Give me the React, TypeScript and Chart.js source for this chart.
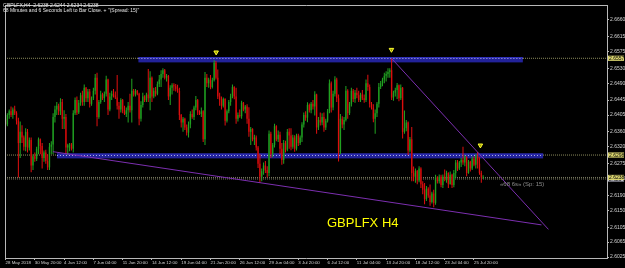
import React, { useEffect, useRef } from 'react';
import { Chart, registerables } from 'chart.js';
Chart.register(...registerables);

// Prices are stored in pips above 2.6000 (e.g. 395 -> 2.6395)
const BASE = 2.6;
const PIP = 0.0001;

// H4 candles: [open, high, low, close] in pips above 2.6000
const candlePips: number[][] = [
  [395,405,370,380],[380,410,375,405],[405,420,395,415],[415,428,400,405],[405,425,395,420],
  [420,430,405,410],[410,415,380,390],[390,398,238,330],[330,388,290,360],[360,378,330,345],
  [345,350,310,320],[320,370,308,360],[360,368,305,318],[318,345,310,338],[338,345,252,270],
  [270,300,258,295],[295,305,280,288],[288,320,282,315],[315,345,300,340],[340,342,300,322],
  [322,330,262,290],[290,310,280,305],[305,312,275,282],[282,300,258,265],[265,330,258,320],
  [320,335,300,326],[326,410,300,400],[400,430,385,420],[420,440,405,430],[430,435,405,415],
  [415,450,405,440],[440,448,368,395],[395,418,368,400],[400,408,300,318],[318,328,298,324],
  [324,330,308,326],[326,330,310,315],[315,418,305,410],[410,452,405,445],[445,455,405,412],
  [412,445,408,438],[438,465,430,458],[458,470,430,440],[440,487,430,478],[478,480,440,450],
  [450,475,440,468],[468,475,425,435],[435,455,430,450],[450,478,445,470],[470,515,460,505],
  [505,518,375,400],[400,445,395,440],[440,470,435,460],[460,465,445,450],[450,468,440,462],
  [462,510,455,500],[500,502,405,420],[420,465,415,455],[455,470,445,462],[462,475,452,458],
  [458,468,448,452],[452,512,420,430],[430,440,395,420],[420,450,412,445],[445,448,410,415],
  [415,430,405,408],[408,425,400,418],[418,440,385,430],[430,462,412,418],[418,502,385,470],
  [470,475,455,460],[460,475,455,470],[470,472,458,462],[462,465,378,395],[395,442,388,432],
  [432,465,425,455],[455,458,440,445],[445,465,440,460],[460,528,440,450],[450,522,418,505],
  [505,508,440,455],[455,478,450,470],[470,480,455,462],[462,495,458,488],[488,512,480,500],
  [500,525,480,515],[515,530,505,525],[525,528,500,505],[505,515,495,510],[510,512,445,455],
  [455,485,432,478],[478,490,460,485],[485,490,470,482],[482,488,468,475],[475,486,465,470],
  [470,478,392,405],[405,408,372,385],[385,400,360,395],[395,398,365,372],[372,380,350,358],
  [358,388,345,380],[380,415,370,408],[408,420,395,400],[400,430,392,425],[425,456,418,445],
  [445,448,405,412],[412,418,405,408],[408,425,400,415],[415,418,333,340],[340,520,325,505],
  [505,515,480,490],[490,505,478,500],[500,512,474,480],[480,505,476,498],[498,552,495,545],
  [545,550,500,505],[505,527,448,455],[455,465,430,445],[445,455,420,430],[430,452,425,448],
  [448,450,377,390],[390,420,385,415],[415,445,410,440],[440,462,430,455],[455,487,450,480],
  [480,482,447,455],[455,478,382,395],[395,412,388,405],[405,420,398,402],[402,443,395,438],
  [438,440,415,420],[420,432,410,428],[428,434,382,395],[395,426,347,360],[360,373,325,368],
  [368,370,335,340],[340,352,325,345],[345,350,310,318],[318,322,263,275],[275,300,224,240],
  [240,262,228,255],[255,278,245,270],[270,282,250,258],[258,268,238,250],[250,364,241,355],
  [355,360,290,300],[300,330,292,325],[325,382,318,375],[375,378,335,340],[340,364,333,352],
  [352,360,300,315],[315,330,272,285],[285,338,275,330],[330,336,305,312],[312,368,308,360],
  [360,370,315,350],[350,370,311,320],[320,352,315,345],[345,351,307,315],[315,355,310,350],
  [350,355,322,330],[330,350,325,345],[345,386,333,380],[380,412,372,405],[405,415,390,398],
  [398,439,386,432],[432,436,412,418],[418,440,410,435],[435,445,420,428],[428,469,404,460],
  [460,462,355,372],[372,400,365,392],[392,412,377,385],[385,410,378,400],[400,412,360,372],
  [372,395,365,390],[390,421,385,415],[415,500,410,490],[490,495,412,425],[425,470,418,462],
  [462,509,455,500],[500,505,440,450],[450,460,281,305],[305,408,300,395],[395,402,370,380],
  [380,400,365,392],[392,483,388,470],[470,474,395,410],[410,440,405,435],[435,478,428,470],
  [470,475,440,448],[448,472,438,465],[465,478,450,458],[458,470,440,445],[445,465,440,460],
  [460,472,445,450],[450,460,438,445],[445,500,440,490],[490,513,470,480],[480,487,425,435],
  [435,440,420,425],[425,434,386,395],[395,420,355,410],[410,440,400,435],[435,491,425,480],
  [480,496,475,490],[490,505,482,500],[500,518,490,510],[510,522,495,515],[515,530,505,520],
  [520,530,505,525],[525,558,445,452],[452,470,443,465],[465,478,455,472],[472,491,448,485],
  [485,487,442,450],[450,487,445,478],[478,480,342,360],[360,417,355,370],[370,392,362,385],
  [385,388,298,310],[310,346,305,340],[340,373,228,250],[250,267,228,240],[240,262,224,255],
  [255,258,220,230],[230,268,225,262],[262,265,210,220],[220,228,193,205],[205,223,166,180],
  [180,215,175,208],[208,212,184,190],[190,219,162,172],[172,200,168,195],[195,205,158,170],
  [170,245,165,238],[238,241,222,228],[228,246,222,240],[240,245,212,218],[218,246,210,240],
  [240,259,228,235],[235,256,224,250],[250,252,210,220],[220,254,219,245],[245,248,210,218],
  [218,258,212,250],[250,285,237,278],[278,285,255,262],[262,282,258,278],[278,290,266,285],
  [285,320,272,278],[278,298,268,292],[292,295,241,250],[250,285,248,280],[280,283,254,262],
  [262,294,258,288],[288,294,268,272],[272,300,262,295],[295,306,262,275],[275,292,245,250],
  [250,256,224,238],[238,244,234,238],
];

const timeLabels = [
  '28 May 2018', '30 May 20:00', '4 Jun 12:00', '7 Jun 04:00', '11 Jun 20:00', '14 Jun 12:00',
  '19 Jun 04:00', '21 Jun 20:00', '26 Jun 12:00', '29 Jun 04:00', '3 Jul 20:00', '6 Jul 12:00',
  '11 Jul 04:00', '13 Jul 20:00', '18 Jul 12:00', '23 Jul 04:00', '25 Jul 20:00',
];
const timeLabelBars = [0, 16, 32, 48, 64, 80, 96, 112, 128, 144, 160, 176, 192, 208, 224, 240, 256];

const priceTicks = [
  2.6660, 2.6615, 2.6575, 2.6530, 2.6490, 2.6445, 2.6405, 2.6360,
  2.6320, 2.6275, 2.6235, 2.6190, 2.6150, 2.6105, 2.6065, 2.6025,
];

const X_MIN = -0.3;
const X_MAX = 328.7;
const Y_MIN = 2.60224;
const Y_MAX = 2.66996;

// horizontal level lines (price)
const levelPrices = [2.6557, 2.6298, 2.6238, 2.6234];
// price labels highlighted on the axis
const highlightPrices = [2.6557, 2.6298, 2.6238];
const bidLabelPrice = 2.6234;

// rectangles: [fromBar, toBar, lowPrice, highPrice, linePrice]
const bandZones = [
  [72.6, 282.7, 2.6546, 2.6560, 2.6557],
  [28.1, 293.8, 2.6289, 2.6302, 2.6298],
];

// trend lines: [bar, price] pairs
const trendLower = [[25.9, 2.6307], [292.9, 2.6111]];
const trendUpper = [[210.9, 2.6557], [296.7, 2.6099]];

// arrow markers: [bar, price]
const arrowMarks = [[115.1, 2.6573], [210.9, 2.6580], [259.5, 2.6324]];

const titleLine1 = 'GBPLFX,H4  2.6238 2.6244 2.6234 2.6238';
const titleLine2 = '68 Minutes and 6 Seconds Left to Bar Close. + "(Spread: 15)"';
const chartNote = 'GBPLFX H4';
const timerNote = '\u00AB68 6s\u00BB (Sp: 15)';

const FONT = 'Liberation Sans, Arial, sans-serif';

const toPrice = (v: number) => BASE + v * PIP;

export default function App() {
  const ref = useRef<HTMLCanvasElement>(null);

  useEffect(() => {
    document.body.style.margin = '0';
    document.body.style.background = '#000';
    const canvas = ref.current!;

    const wickData = candlePips.map((c, i) => ({ x: i, y: [toPrice(c[2]), toPrice(c[1])] }));
    const bodyData = candlePips.map((c, i) => ({ x: i, y: [toPrice(c[0]), toPrice(c[3])] }));
    const isUp = candlePips.map((c) => c[3] >= c[0]);

    let bandsDrawn = false;

    const customPlugin = {
      id: 'mtDecor',
      beforeDraw(chart: any) {
        const ctx = chart.ctx;
        ctx.save();
        ctx.fillStyle = '#000';
        ctx.fillRect(0, 0, chart.width, chart.height);
        ctx.restore();
        bandsDrawn = false;
      },
      beforeDatasetDraw(chart: any, args: any) {
        const ds = chart.data.datasets[args.index];
        if (bandsDrawn || ds.label !== 'bodies') return;
        bandsDrawn = true;
        const xs = chart.scales.x;
        const ys = chart.scales.y;
        const ctx = chart.ctx;
        ctx.save();
        const a = chart.chartArea;
        ctx.beginPath();
        ctx.rect(a.left, a.top, a.right - a.left, a.bottom - a.top);
        ctx.clip();
        bandZones.forEach((b) => {
          const x1 = xs.getPixelForValue(b[0]);
          const x2 = xs.getPixelForValue(b[1]);
          const y1 = ys.getPixelForValue(b[3]);
          const y2 = ys.getPixelForValue(b[2]);
          ctx.fillStyle = '#22229a';
          ctx.fillRect(x1, y1, x2 - x1, y2 - y1);
          ctx.fillStyle = '#3434c4';
          ctx.fillRect(x1, y1, x2 - x1, 1);
          const yl = Math.round(ys.getPixelForValue(b[4])) + 0.5;
          ctx.strokeStyle = '#b4b4e6';
          ctx.lineWidth = 1;
          ctx.setLineDash([1, 2]);
          ctx.beginPath();
          ctx.moveTo(x1, yl);
          ctx.lineTo(x2, yl);
          ctx.stroke();
          ctx.setLineDash([]);
        });
        ctx.restore();
      },
      afterDraw(chart: any) {
        const ctx = chart.ctx;
        const a = chart.chartArea;
        const ys = chart.scales.y;
        ctx.save();
        // frame (left and top edges)
        ctx.strokeStyle = '#b8b8b8';
        ctx.lineWidth = 1;
        ctx.beginPath();
        ctx.moveTo(a.left + 0.5, a.bottom);
        ctx.lineTo(a.left + 0.5, a.top + 0.5);
        ctx.lineTo(a.right, a.top + 0.5);
        ctx.stroke();

        // title
        ctx.fillStyle = '#e6e6e6';
        ctx.font = `5px ${FONT}`;
        ctx.textBaseline = 'alphabetic';
        ctx.textAlign = 'left';
        ctx.fillText(titleLine1, 3, 6.8);
        ctx.fillText(titleLine2, 3, 12.2);

        // chart note
        ctx.fillStyle = '#ffff00';
        ctx.font = `13px ${FONT}`;
        ctx.fillText(chartNote, 327, 226.5);

        // timer note
        ctx.fillStyle = '#8c8c8c';
        ctx.font = `6px ${FONT}`;
        ctx.fillText(timerNote, 500, 186.3);

        // axis highlight labels
        const drawTag = (price: number, bg: string) => {
          const y = ys.getPixelForValue(price);
          ctx.fillStyle = bg;
          ctx.fillRect(a.right + 1, y - 2.6, 16, 5.2);
          ctx.fillStyle = '#000';
          ctx.font = `5px ${FONT}`;
          ctx.textBaseline = 'middle';
          ctx.fillText(price.toFixed(4), a.right + 2, y + 0.3);
        };
        drawTag(bidLabelPrice, '#c4c4d4');
        highlightPrices.forEach((p) => drawTag(p, '#d8d26e'));
        ctx.restore();
      },
    };

    const levelSets = levelPrices.map((p, k) => ({
      type: 'line',
      label: 'level' + k,
      data: [{ x: X_MIN, y: p }, { x: X_MAX, y: p }],
      borderColor: k < 2 ? '#8a8a5c' : '#7a7a62',
      borderWidth: 1,
      borderDash: [1, 1],
      pointRadius: 0,
      order: 10,
    }));

    const chart = new Chart(canvas, {
      type: 'bar',
      data: {
        datasets: [
          ...levelSets,
          {
            type: 'bar',
            label: 'bodies',
            data: bodyData,
            backgroundColor: isUp.map((u) => (u ? '#157a1a' : '#a00000')),
            barThickness: 1.5,
            grouped: false,
            inflateAmount: 0,
            order: 8,
          },
          {
            type: 'bar',
            label: 'wicks',
            data: wickData,
            backgroundColor: isUp.map((u) => (u ? '#22a522' : '#e21010')),
            barThickness: 1,
            grouped: false,
            inflateAmount: 0,
            order: 7,
          },
          {
            type: 'line',
            label: 'trendLower',
            data: trendLower.map((t) => ({ x: t[0], y: t[1] })),
            borderColor: '#7c2fb0',
            borderWidth: 1,
            pointRadius: 0,
            order: 5,
          },
          {
            type: 'line',
            label: 'trendUpper',
            data: trendUpper.map((t) => ({ x: t[0], y: t[1] })),
            borderColor: '#7c2fb0',
            borderWidth: 1,
            pointRadius: 0,
            order: 5,
          },
          {
            type: 'line',
            label: 'arrows',
            data: arrowMarks.map((t) => ({ x: t[0], y: t[1] })),
            showLine: false,
            pointStyle: 'triangle',
            rotation: 180,
            pointRadius: 2.6,
            pointBackgroundColor: '#9a9a00',
            pointBorderColor: '#ffff30',
            pointBorderWidth: 1,
            order: 1,
          },
        ] as any,
      },
      options: {
        responsive: false,
        animation: false,
        events: [],
        layout: { padding: { left: 1, top: 1, right: 0, bottom: 0 } },
        plugins: {
          legend: { display: false },
          tooltip: { enabled: false },
        },
        scales: {
          x: {
            type: 'linear',
            min: X_MIN,
            max: X_MAX,
            offset: false,
            grid: { display: true, drawOnChartArea: false, drawTicks: true, tickLength: 2, color: '#b8b8b8', offset: false },
            border: { display: true, color: '#b8b8b8' },
            ticks: {
              align: 'start',
              padding: 0,
              maxRotation: 0,
              autoSkip: false,
              color: '#d4d4d4',
              font: { size: 4.4, family: FONT },
              callback: (v: any) => {
                const k = timeLabelBars.indexOf(Number(v));
                return k >= 0 ? timeLabels[k] : '';
              },
            },
            afterBuildTicks: (s: any) => {
              s.ticks = timeLabelBars.map((v) => ({ value: v }));
            },
            afterFit: (s: any) => {
              s.height = 10;
            },
          },
          y: {
            type: 'linear',
            position: 'right',
            min: Y_MIN,
            max: Y_MAX,
            grid: { display: true, drawOnChartArea: false, drawTicks: true, tickLength: 2, color: '#b8b8b8' },
            border: { display: true, color: '#b8b8b8' },
            ticks: {
              padding: 1,
              color: '#d4d4d4',
              font: { size: 5, family: FONT },
              callback: (v: any) => Number(v).toFixed(4),
            },
            afterBuildTicks: (s: any) => {
              s.ticks = priceTicks.map((v) => ({ value: v }));
            },
            afterFit: (s: any) => {
              s.width = 18;
            },
          },
        },
      } as any,
      plugins: [customPlugin],
    });

    return () => chart.destroy();
  }, []);

  return (
    <canvas
      ref={ref}
      width={625}
      height={268}
      style={{ display: 'block', position: 'fixed', left: 0, top: 0, width: 625, height: 268 }}
    />
  );
}
